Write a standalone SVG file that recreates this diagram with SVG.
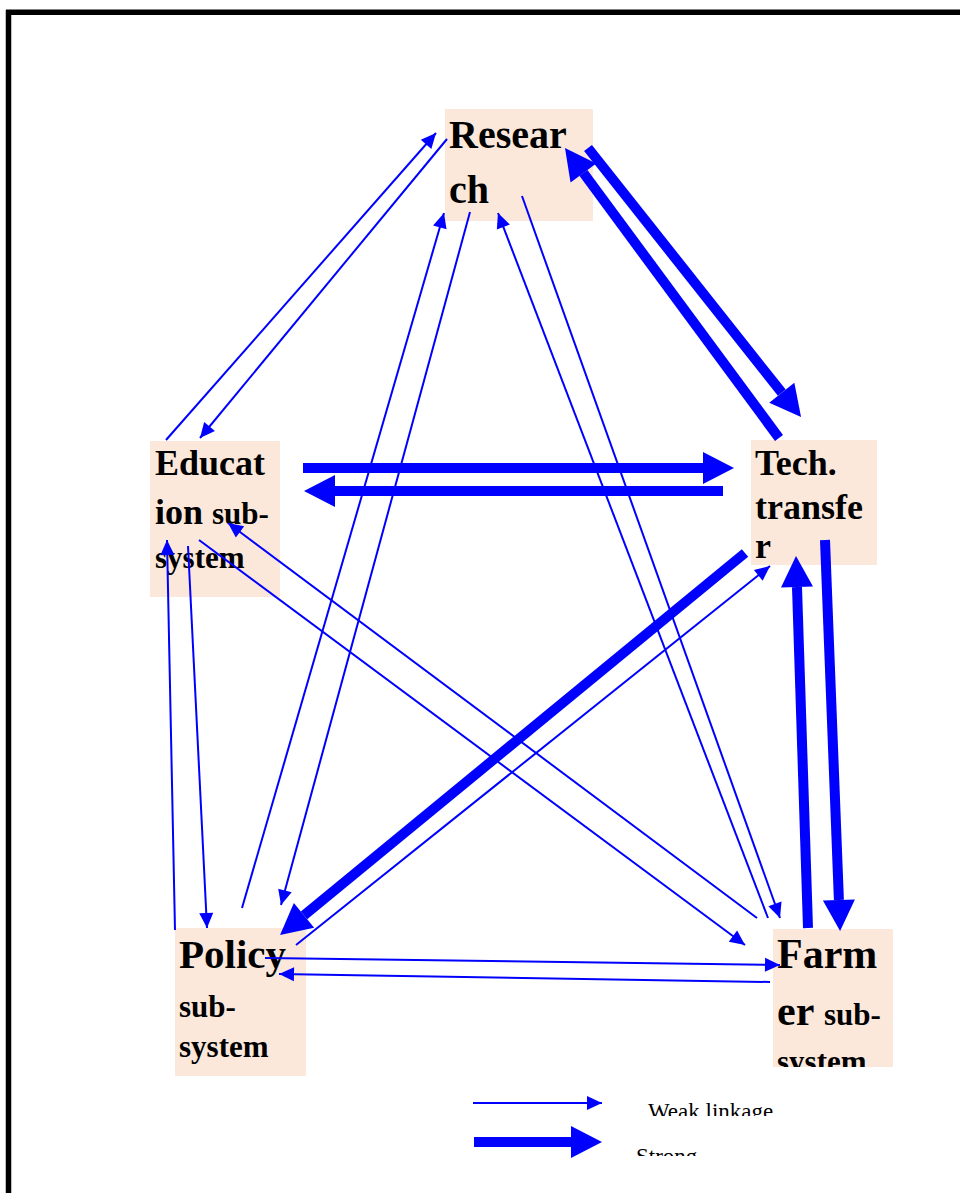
<svg xmlns="http://www.w3.org/2000/svg" width="960" height="1193" viewBox="0 0 960 1193">
<defs>
<style>
.box{fill:#FBE8DB}
.t{font-family:"Liberation Serif","Times New Roman",serif;font-weight:bold;fill:#000}
.w{stroke:#0000FF;stroke-width:2;fill:none;marker-end:url(#mw)}
.s{stroke:#0000FF;stroke-width:10;fill:none;marker-end:url(#ms)}
.lg{font-family:"Liberation Serif","Times New Roman",serif;font-size:23px;fill:#000}
</style>
<marker id="mw" markerUnits="userSpaceOnUse" viewBox="0 -7 15 14" markerWidth="15" markerHeight="14" refX="15" refY="0" orient="auto" overflow="visible">
<path d="M0,-7 L15,0 L0,7 z" fill="#0000FF"/>
</marker>
<marker id="ms" markerUnits="userSpaceOnUse" viewBox="0 -16 31 32" markerWidth="31" markerHeight="32" refX="0" refY="0" orient="auto" overflow="visible">
<path d="M0,-16 L31,0 L0,16 z" fill="#0000FF"/>
</marker>
<clipPath id="cf"><rect x="773" y="929" width="120" height="138"/></clipPath>
<clipPath id="ce"><rect x="150" y="441" width="130" height="156"/></clipPath>
<clipPath id="cl1"><rect x="600" y="1090" width="250" height="26"/></clipPath>
<clipPath id="cl2"><rect x="600" y="1130" width="250" height="26"/></clipPath>
</defs>
<rect width="960" height="1193" fill="#fff"/>
<g id="border" stroke="#000" stroke-width="5.5">
<line x1="6" y1="12.3" x2="960" y2="12.3"/>
<line x1="8.5" y1="10" x2="8.5" y2="1193"/>
</g>
<g id="research">
<rect class="box" x="445" y="109" width="148" height="112"/>
<text class="t" font-size="40" x="449" y="148">Resear</text>
<text class="t" font-size="40" x="449" y="203">ch</text>
</g>
<g id="education" clip-path="url(#ce)">
<rect class="box" x="150" y="441" width="130" height="156"/>
<text class="t" font-size="36" x="155" y="475">Educat</text>
<text class="t" x="155" y="524"><tspan font-size="36">ion </tspan><tspan font-size="31">sub-</tspan></text>
<text class="t" font-size="31" x="155" y="568">system</text>
</g>
<g id="tech">
<rect class="box" x="751" y="440" width="126" height="125"/>
<text class="t" font-size="36" x="755" y="475">Tech.</text>
<text class="t" font-size="36" x="755" y="519">transfe</text>
<text class="t" font-size="36" x="755" y="558">r</text>
</g>
<g id="policy">
<rect class="box" x="175" y="928" width="131" height="148"/>
<text class="t" font-size="41" x="179" y="968">Policy</text>
<text class="t" font-size="31" x="179" y="1017">sub-</text>
<text class="t" font-size="31" x="179" y="1057">system</text>
</g>
<g id="farmer" clip-path="url(#cf)">
<rect class="box" x="773" y="929" width="120" height="138"/>
<text class="t" font-size="42" x="777" y="968">Farm</text>
<text class="t" x="777" y="1025"><tspan font-size="42">er </tspan><tspan font-size="31">sub-</tspan></text>
<text class="t" font-size="31" x="777" y="1072">system</text>
</g>
<g id="connectors">
<line class="w" x1="166" y1="440" x2="436" y2="133"/>
<line class="w" x1="447" y1="139" x2="200" y2="438"/>
<line class="w" x1="470" y1="212" x2="281" y2="905"/>
<line class="w" x1="242" y1="908" x2="444" y2="213"/>
<line class="w" x1="522" y1="196" x2="780" y2="918"/>
<line class="w" x1="768" y1="918" x2="498" y2="213"/>
<line class="s" x1="588" y1="148" x2="781.8" y2="392.7"/>
<line class="s" x1="779" y1="438" x2="583.4" y2="172.9"/>
<line class="s" x1="303" y1="468" x2="703" y2="468"/>
<line class="s" x1="723" y1="491" x2="335" y2="491"/>
<line class="s" x1="745" y1="553" x2="304" y2="915.3"/>
<line class="w" x1="296" y1="945" x2="770" y2="566"/>
<line class="s" x1="825" y1="540" x2="838.9" y2="900"/>
<line class="s" x1="808" y1="928" x2="797" y2="587"/>
<line class="w" x1="199" y1="540" x2="745" y2="945"/>
<line class="w" x1="757" y1="918" x2="228" y2="523"/>
<line class="w" x1="188" y1="546" x2="207" y2="928"/>
<line class="w" x1="175" y1="930" x2="167" y2="540"/>
<line class="w" x1="265" y1="958" x2="780" y2="965"/>
<line class="w" x1="770" y1="982" x2="279" y2="974"/>
</g>
<g id="legend">
<line class="w" x1="473" y1="1103" x2="602" y2="1103"/>
<line class="s" x1="474" y1="1142" x2="571" y2="1142"/>
<text class="lg" x="648" y="1119" clip-path="url(#cl1)">Weak linkage</text>
<text class="lg" x="636" y="1164" clip-path="url(#cl2)">Strong</text>
</g>
</svg>
